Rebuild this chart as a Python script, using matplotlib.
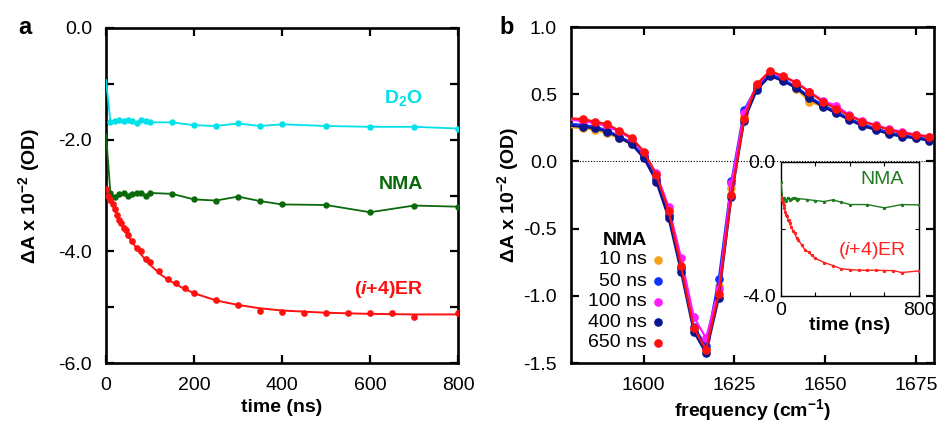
import matplotlib
matplotlib.use("Agg")
import matplotlib.pyplot as plt
from matplotlib.ticker import FixedLocator, FixedFormatter, MultipleLocator, FormatStrFormatter

plt.rcParams['font.family'] = ['Liberation Sans', 'DejaVu Sans']
plt.rcParams['axes.unicode_minus'] = False
plt.rcParams['mathtext.fontset'] = 'custom'
plt.rcParams['mathtext.rm'] = 'Liberation Sans:bold'
plt.rcParams['mathtext.sf'] = 'Liberation Sans'
plt.rcParams['mathtext.it'] = 'Liberation Sans:italic'
plt.rcParams['mathtext.bf'] = 'Liberation Sans:bold:italic'

# ---- panel a: kinetics at the probe frequency ----
t_d2o = [0, 10, 20, 30, 40, 50, 60, 70, 80, 90, 100, 150, 200, 250, 300, 350, 400, 500, 600, 700, 800]
d2o = [-0.93, -1.68, -1.67, -1.64, -1.67, -1.65, -1.66, -1.71, -1.65, -1.67, -1.69,
       -1.69, -1.74, -1.755, -1.71, -1.755, -1.725, -1.755, -1.77, -1.77, -1.80]
t_nma = t_d2o
nma = [-1.9, -2.96, -3.02, -2.98, -2.95, -3.01, -2.98, -2.96, -2.95, -3.00, -2.955,
       -2.97, -3.07, -3.09, -3.02, -3.10, -3.16, -3.17, -3.30, -3.18, -3.20]
t_er = [0, 5, 10, 15, 20, 25, 30, 35, 40, 45, 50, 60, 70, 80, 90, 100, 120, 140, 160, 180,
        200, 250, 300, 350, 400, 450, 500, 550, 600, 650, 700, 800]
er = [-2.88, -3.00, -3.08, -3.16, -3.25, -3.35, -3.44, -3.49, -3.59, -3.61, -3.70, -3.82,
      -3.94, -4.00, -4.14, -4.19, -4.35, -4.50, -4.56, -4.66, -4.75, -4.87, -4.96, -5.06,
      -5.08, -5.10, -5.10, -5.10, -5.11, -5.11, -5.17, -5.10]
t_fit = [0, 10, 20, 30, 40, 50, 60, 80, 100, 125, 150, 175, 200, 250, 300, 350, 400, 500, 600, 700, 800]
er_fit = [-2.88, -3.08, -3.26, -3.43, -3.58, -3.72, -3.84, -4.06, -4.24, -4.42, -4.55, -4.66,
          -4.75, -4.88, -4.96, -5.02, -5.06, -5.10, -5.12, -5.13, -5.13]

# ---- panel b: NMA spectra at several delays ----
freq = [1579.7, 1583.2, 1586.6, 1590.0, 1593.3, 1596.7, 1600.1, 1603.5, 1606.9, 1610.3,
        1613.8, 1617.2, 1620.7, 1624.2, 1627.7, 1631.2, 1634.8, 1638.4, 1642.1, 1645.7,
        1649.4, 1653.0, 1656.7, 1660.3, 1664.0, 1667.6, 1671.3, 1675.0, 1678.7, 1682.3]
spec_10 = [0.255, 0.248, 0.235, 0.208, 0.172, 0.130, 0.035, -0.130, -0.400, -0.800, -1.245,
           -1.390, -0.927, -0.200, 0.330, 0.545, 0.645, 0.605, 0.540, 0.445, 0.410, 0.365,
           0.315, 0.275, 0.240, 0.210, 0.190, 0.175, 0.160, 0.150]
spec_50 = [0.280, 0.272, 0.258, 0.232, 0.185, 0.140, 0.040, -0.130, -0.400, -0.790, -1.230,
           -1.370, -0.877, -0.146, 0.382, 0.555, 0.650, 0.610, 0.555, 0.480, 0.420, 0.370,
           0.320, 0.275, 0.245, 0.215, 0.195, 0.180, 0.165, 0.150]
spec_100 = [0.310, 0.300, 0.285, 0.262, 0.220, 0.170, 0.060, -0.090, -0.340, -0.716, -1.155,
            -1.316, -0.950, -0.163, 0.360, 0.570, 0.665, 0.630, 0.585, 0.520, 0.450, 0.415,
            0.345, 0.300, 0.270, 0.240, 0.220, 0.200, 0.185, 0.175]
spec_400 = [0.265, 0.258, 0.246, 0.221, 0.177, 0.127, 0.023, -0.151, -0.424, -0.821, -1.267,
            -1.428, -1.019, -0.263, 0.303, 0.531, 0.635, 0.598, 0.544, 0.469, 0.407, 0.358,
            0.308, 0.263, 0.234, 0.202, 0.184, 0.172, 0.154, 0.140]
spec_650 = [0.320, 0.315, 0.296, 0.276, 0.229, 0.177, 0.072, -0.101, -0.367, -0.778, -1.237,
            -1.403, -0.987, -0.250, 0.315, 0.576, 0.673, 0.635, 0.586, 0.514, 0.444, 0.392,
            0.340, 0.296, 0.266, 0.234, 0.211, 0.196, 0.184, 0.170]
delay_labels = ['10 ns', '50 ns', '100 ns', '400 ns', '650 ns']
delay_colors = ['#f5a31c', '#1030ff', '#ff1cff', '#0a1690', '#ff1010']

# ---- inset: kinetics offset ----
inset_nma = [-0.6, -1.13, -1.08, -1.16, -1.06, -1.14, -1.10, -1.08, -1.07, -1.13, -1.09,
             -1.12, -1.15, -1.18, -1.13, -1.20, -1.27, -1.27, -1.37, -1.27, -1.28]
inset_er = [-1.03, -1.13, -1.21, -1.29, -1.38, -1.48, -1.57, -1.62, -1.72, -1.74, -1.83,
            -1.95, -2.07, -2.13, -2.27, -2.32, -2.48, -2.63, -2.69, -2.79, -2.88, -3.00,
            -3.09, -3.19, -3.21, -3.23, -3.23, -3.23, -3.24, -3.24, -3.30, -3.25]

FS = 14
CYAN = '#00e1ea'
GREEN = '#0b690b'
RED = '#ff1010'

fig = plt.figure(figsize=(9.45, 4.25), dpi=100)

def style_frame(ax, lw=1.9, tlen=6, tw=1.6):
    for s in ax.spines.values():
        s.set_linewidth(lw)
    ax.tick_params(direction='in', top=True, right=True, length=tlen, width=tw,
                   labelsize=FS, pad=10)

# panel a
axa = fig.add_axes([106/945, 1-363/425, 352/945, 335/425])
axa.plot(t_d2o, d2o, color=CYAN, lw=1.3, zorder=3)
axa.plot(t_d2o[1:], d2o[1:], 'o', color=CYAN, ms=3.6, zorder=3)
axa.plot(t_nma, nma, color=GREEN, lw=1.3, zorder=3)
axa.plot(t_nma[1:], nma[1:], 'o', color=GREEN, ms=3.6, zorder=3)
axa.plot(t_fit, er_fit, color=RED, lw=1.4, zorder=3)
axa.plot(t_er, er, 'o', color=RED, ms=3.8, zorder=4)
axa.set_xlim(0, 800)
axa.set_ylim(-6, 0)
axa.xaxis.set_major_locator(FixedLocator([0, 200, 400, 600, 800]))
axa.yaxis.set_major_locator(FixedLocator([-6, -5, -4, -3, -2, -1, 0]))
axa.yaxis.set_major_formatter(FixedFormatter(['-6.0', '', '-4.0', '', '-2.0', '', '0.0']))
style_frame(axa)
axa.set_xlabel('time (ns)', fontsize=FS, fontweight='bold', labelpad=4)
axa.set_ylabel(r'ΔA x 10$^{\mathrm{-2}}$ (OD)', fontsize=FS, fontweight='bold', labelpad=12)
axa.text(0.90, 0.79, r'D$_{\mathrm{2}}$O', transform=axa.transAxes, ha='right', va='center',
         color=CYAN, fontsize=FS, fontweight='bold')
axa.text(0.90, 0.534, 'NMA', transform=axa.transAxes, ha='right', va='center',
         color=GREEN, fontsize=FS, fontweight='bold')
axa.text(0.90, 0.218, r'($\mathbf{i}$+4)ER', transform=axa.transAxes, ha='right', va='center',
         color=RED, fontsize=FS, fontweight='bold')
fig.text(25/945, 1-27/425, 'a', fontsize=17, fontweight='bold', ha='center', va='center')

# panel b
axb = fig.add_axes([571/945, 1-363/425, 363/945, 336/425])
axb.axhline(0, color='black', lw=0.8, ls=(0, (1, 1.5)), zorder=1)
spectra = [spec_10, spec_50, spec_100, spec_400, spec_650]
for vals, col in zip(spectra, delay_colors):
    axb.plot(freq, vals, color=col, lw=1.6, zorder=3)
    axb.plot(freq[1:-1], vals[1:-1], 'o', color=col, ms=5.2, zorder=3)
axb.set_xlim(1580, 1680)
axb.set_ylim(-1.5, 1.0)
axb.xaxis.set_major_locator(FixedLocator([1600, 1625, 1650, 1675]))
axb.yaxis.set_major_locator(MultipleLocator(0.5))
axb.yaxis.set_major_formatter(FormatStrFormatter('%.1f'))
style_frame(axb)
axb.set_xlabel(r'frequency (cm$^{\mathrm{-1}}$)', fontsize=FS, fontweight='bold', labelpad=2)
axb.set_ylabel(r'ΔA x 10$^{\mathrm{-2}}$ (OD)', fontsize=FS, fontweight='bold', labelpad=2)
fig.text(507/945, 1-27/425, 'b', fontsize=17, fontweight='bold', ha='center', va='center')

# delay key
axb.text(0.149, 0.366, 'NMA', transform=axb.transAxes, ha='center', va='center',
         fontsize=FS, fontweight='bold')
rows_y = [0.307, 0.244, 0.182, 0.122, 0.060]
for lab, col, yy in zip(delay_labels, delay_colors, rows_y):
    axb.text(0.209, yy, lab, transform=axb.transAxes, ha='right', va='center', fontsize=FS)
    axb.plot([0.240], [yy], 'o', color=col, ms=5.2, transform=axb.transAxes, clip_on=False)

# inset
axi = fig.add_axes([781/945, 1-296/425, 138/945, 134/425])
axi.plot(t_nma, inset_nma, color='#1f7a1f', lw=1.0, marker='o', ms=1.4, zorder=3)
axi.plot(t_er, inset_er, color='#ff2020', lw=1.0, marker='o', ms=1.4, zorder=3)
axi.set_xlim(0, 800)
axi.set_ylim(-4, 0)
axi.xaxis.set_major_locator(FixedLocator([0, 200, 400, 600, 800]))
axi.xaxis.set_major_formatter(FixedFormatter(['0', '', '', '', '800']))
axi.yaxis.set_major_locator(FixedLocator([-4, -2, 0]))
axi.yaxis.set_major_formatter(FixedFormatter(['-4.0', '', '0.0']))
for s in axi.spines.values():
    s.set_linewidth(1.0)
axi.tick_params(direction='in', top=True, right=True, length=3, width=0.8,
                labelsize=FS, pad=4)
axi.set_xlabel('time (ns)', fontsize=FS, fontweight='bold', labelpad=-1)
axi.text(0.73, 0.873, 'NMA', transform=axi.transAxes, ha='center', va='center',
         color='#1f7a1f', fontsize=FS)
axi.text(0.906, 0.343, r'($\mathit{i}$+4)ER', transform=axi.transAxes, ha='right', va='center',
         color='#ff2020', fontsize=FS, fontweight='normal')

fig.savefig('out.png', dpi=100)
